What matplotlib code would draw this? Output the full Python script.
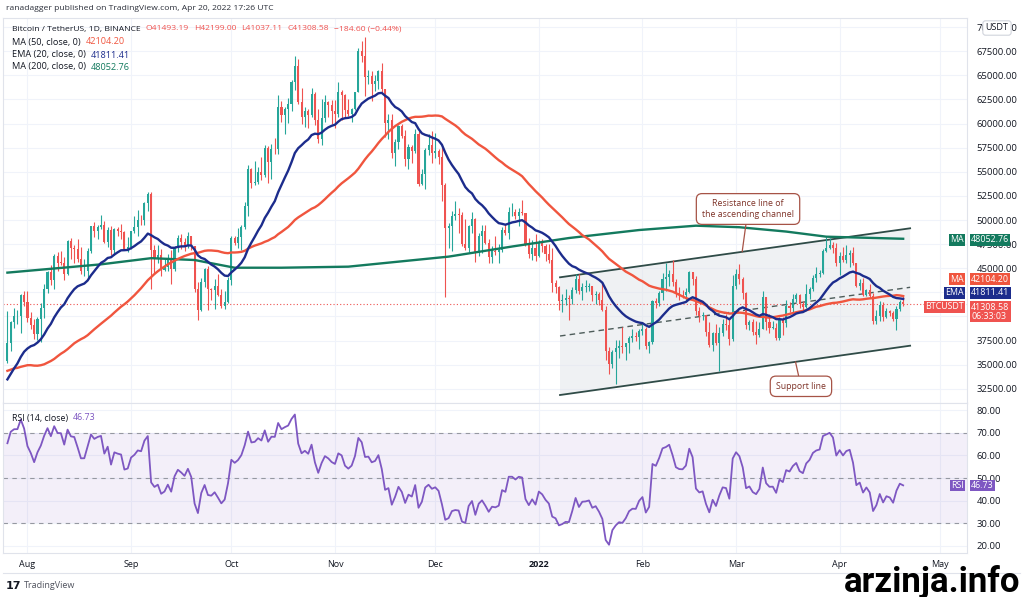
import numpy as np
import pandas as pd
import matplotlib
matplotlib.use("Agg")
import matplotlib.pyplot as plt
import matplotlib.dates as mdates
from matplotlib import transforms
from matplotlib.patches import Polygon
from matplotlib.lines import Line2D

plt.rcParams["font.family"] = ["Open Sans", "DejaVu Sans"]

# closes before the first visible candle (Jun 1 - Jul 25 2021), only used for the indicators
lookback_close = [
    36690, 37570, 39190, 36850, 35520, 35800, 33570, 33380, 37390, 36690,
    37330, 35550, 39020, 40520, 40150, 38350, 38090, 35820, 35480, 35600,
    31680, 32500, 33680, 34660, 31590, 32280, 34700, 34490, 35900, 35040,
    33570, 33800, 34700, 35290, 33690, 34230, 33860, 32880, 33810, 33510,
    34260, 33090, 32730, 32820, 31780, 31420, 31520, 31780, 30840, 29790,
    32140, 32290, 33600, 34290, 35400,
]

# daily candles Jul 26 2021 .. Apr 20 2022 (open = previous close)
high = [
    40550, 39540, 40900, 40640, 42320, 42600,
    42600, 40450, 39780, 39970, 41400, 43390, 44700, 45310, 46450, 46670,
    46780, 46200, 47900, 48150, 47400, 48050, 47160, 46000, 47060, 49380,
    49760, 49500, 50500, 49850, 49230, 49350, 49150, 49300, 49630, 48890, 48200,
    48900, 50370, 51040, 50550, 51900, 52920, 52890, 47360, 47400, 47030,
    45990, 46460, 46870, 47260, 48470, 48500, 48150, 48800, 48370, 47330,
    43600, 44000, 44970, 45200, 42970, 43920, 44350, 42800, 42650, 44120,
    48360, 48360, 49200, 49500, 51890, 55750, 55400, 56100, 55490, 56550,
    57830, 57680, 57850, 58550, 62930, 62370, 61700, 62660, 64490, 67000,
    66700, 63700, 61750, 61500, 63700, 63280, 61500, 62500, 62970, 62350, 62450,
    62430, 64270, 63500, 63090, 62600, 61600, 63320, 67800, 68530, 69000,
    65600, 65470, 65000, 65550, 66300, 63600, 61000, 60950, 58400, 59850,
    60000, 59300, 57860, 57800, 59390, 59190, 55300, 57450, 58870, 59250,
    59050, 57400, 57600, 53850, 49700, 50900, 51950, 51200, 50800, 50100,
    49490, 50800, 50200, 48690, 49500, 49430, 48000, 47300, 48300, 47550,
    49300, 49580, 51370, 51800, 51150, 51250, 52100, 50700, 48140, 47900, 48550,
    47950, 47990, 47550, 47500, 47070, 43750, 43150, 42300, 42800, 42250,
    43000, 44350, 44450, 43450, 43800, 43480, 43180, 42680, 42550, 43500,
    41100, 36850, 36500, 37550, 37550, 38900, 37250, 38000, 38700, 38380, 38700,
    39250, 38850, 37400, 41700, 41900, 42650, 44500, 45500, 44800, 45850,
    43900, 43000, 42700, 42900, 44750, 44600, 44200, 40950, 40450, 40150,
    39450, 38400, 39250, 38850, 39700, 40300, 39850, 44250,
    44950, 45400, 44100, 42500, 39600, 39700, 39550, 39400, 42600, 42050,
    40250, 39500, 39300, 39950, 39900, 41700, 41450, 42350, 42400, 42300,
    41550, 43350, 43000, 44250, 45100, 44800, 46950, 48200, 48100, 47700, 47600,
    46700, 47200, 47450, 46900, 47200, 45500, 43900, 43950, 42800, 43400,
    42400, 40700, 41550, 41500, 40850, 40700, 40600, 41100, 41750, 42199.00,
]
low = [
    35200, 36400, 38800, 39200, 38320, 41050,
    39420, 38700, 37640, 37510, 37330, 39850, 42450, 43260, 42800, 44700,
    45350, 43800, 44250, 45970, 45520, 45680, 44380, 44200, 43960, 46620,
    48270, 48080, 49040, 47640, 47150, 46330, 46370, 48330, 48020, 46860, 46690,
    46950, 48620, 48350, 49500, 49430, 50950, 42840, 44420, 45500, 44150,
    44750, 44760, 43370, 44710, 46710, 47030, 46750, 47050, 46870, 42500,
    39600, 40560, 43080, 40680, 41680, 40750, 42100, 40890, 40750, 41420,
    43280, 47420, 47120, 46900, 49060, 50380, 53370, 53650, 53700, 54100,
    54420, 53880, 54250, 56850, 56860, 60200, 58950, 60020, 61330, 63480,
    62000, 60000, 59680, 59550, 60670, 59830, 58000, 57820, 60180, 60720, 59950,
    59500, 60650, 60380, 60680, 60750, 60120, 61380, 63300, 66380, 62820,
    64100, 62300, 63360, 63600, 63300, 58570, 58370, 56480, 55620, 57400,
    58500, 55620, 55300, 55900, 57000, 53500, 53600, 53250, 56700, 55870,
    56450, 55800, 52000, 42000, 47100, 46780, 50040, 48600, 47300, 46850,
    46650, 48650, 45670, 46300, 46550, 47550, 45500, 45500, 46400, 45560,
    46630, 48420, 48050, 50420, 50150, 49400, 50500, 47300, 46100, 45900, 45700,
    46200, 46650, 45700, 45500, 42500, 42450, 40700, 40500, 41200, 39650,
    41250, 42450, 42300, 41730, 42550, 42600, 41550, 41250, 41150, 40600,
    35450, 34000, 34600, 32950, 35700, 36250, 35500, 36170, 37300, 37400, 36630,
    38050, 36600, 36250, 37100, 40900, 41120, 41650, 42650, 43130, 43200,
    42000, 41750, 41900, 41550, 42450, 43300, 40100, 39450, 39650, 38000,
    36800, 36400, 37050, 34320, 38000, 38600, 37050, 37450,
    42800, 43350, 41850, 38650, 38600, 38100, 37150, 37900, 38650, 38550,
    38250, 38650, 37600, 37570, 38100, 38900, 40500, 40200, 41500, 40900,
    40500, 40900, 41850, 42600, 43600, 44100, 44400, 46650, 46950, 46550, 45200,
    44250, 45650, 45550, 45150, 45350, 43100, 42750, 42150, 42120, 41900,
    39200, 39250, 39550, 39550, 39800, 40000, 39550, 38550, 40600, 41037.11,
]
close = [
    37270, 39460, 40000, 40020, 42210, 41460,
    39850, 39150, 38200, 39720, 40880, 42830, 44610, 43810, 46280, 45580,
    45560, 44420, 47830, 47100, 47030, 45940, 44690, 44700, 46760, 49340,
    48870, 49290, 49510, 47700, 48950, 46850, 49060, 48900, 48800, 46990, 47150,
    48850, 49300, 50030, 49950, 51770, 52660, 46860, 46070, 46400, 44850,
    45150, 46060, 44960, 47100, 48120, 47750, 47300, 48300, 47260, 42850,
    40690, 43560, 44880, 42840, 42700, 43200, 42170, 41030, 41520, 43800,
    48140, 47660, 48230, 49240, 51490, 55340, 53800, 53970, 54960, 54660,
    57480, 56000, 57370, 57350, 61670, 60880, 61530, 62040, 64280, 66000,
    62200, 60690, 61300, 60860, 63080, 60330, 58450, 60590, 62250, 61880, 61300,
    61000, 63230, 62940, 61440, 61000, 61530, 63300, 67540, 66970, 64880,
    64950, 64150, 64400, 65470, 63600, 60090, 60360, 56900, 58100, 59700,
    58670, 56280, 57560, 57160, 58960, 53730, 54720, 57270, 57800, 56950,
    57200, 56500, 53600, 49150, 49400, 50440, 50590, 50470, 47550, 47140,
    49390, 50100, 46700, 48340, 48860, 47630, 46130, 46830, 46680, 46890,
    48930, 48630, 50820, 50820, 50430, 50800, 50700, 47540, 46460, 47120, 46220,
    47720, 47290, 46430, 45830, 43430, 43080, 41550, 41670, 41860, 41820,
    42730, 43900, 42590, 43070, 43100, 43180, 42250, 42370, 41670, 40680,
    36450, 35070, 36280, 36690, 36960, 36830, 37190, 37730, 37920, 37900, 38470,
    38740, 36950, 37350, 41570, 41380, 42410, 43840, 44040, 44390, 43520,
    42390, 42210, 42190, 42570, 44570, 43870, 40520, 40000, 40110, 38390,
    37010, 38230, 37260, 38330, 39210, 39120, 37700, 43190,
    44420, 43920, 42460, 39140, 39400, 38420, 38060, 38740, 41980, 39440,
    38800, 38820, 37780, 39670, 39280, 41110, 40920, 41770, 42250, 41260,
    41000, 42360, 42890, 43960, 44350, 44500, 46820, 47130, 47430, 47060, 45510,
    46280, 45810, 46410, 46580, 45500, 43170, 43440, 42250, 42750, 42160,
    39520, 40070, 41150, 39940, 40550, 40380, 39680, 40800, 41493.19, 41308.58,
]

# MA 200
ma200_dates = ["2021-07-26", "2021-08-23", "2021-09-07", "2021-09-20", "2021-10-02",
               "2021-10-16", "2021-11-05", "2021-11-20", "2021-12-05", "2021-12-24",
               "2022-01-10", "2022-01-31", "2022-02-17", "2022-03-02", "2022-03-16",
               "2022-03-28", "2022-04-20"]
ma200_values = [44540, 45400, 46040, 45850, 45050, 45050, 45160, 45680, 46200, 47250,
                48130, 48960, 49410, 49250, 48800, 48270, 48052.76]

# last values as printed in the legend
last_ma50 = "42104.20"
last_ema20 = "41811.41"
last_ma200 = "48052.76"
last_rsi = "46.73"

# drawn channel
channel_dates = ["2022-01-07 08:00", "2022-04-22 02:00"]
resistance = [44056, 49139]
midline = [37967, 43018]
support = [31846, 36961]

month_ticks = ["2021-08-01", "2021-09-01", "2021-10-01", "2021-11-01", "2021-12-01",
               "2022-01-01", "2022-02-01", "2022-03-01", "2022-04-01", "2022-05-01"]
month_labels = ["Aug", "Sep", "Oct", "Nov", "Dec", "2022", "Feb", "Mar", "Apr", "May"]

# price levels whose axis labels sit under the tags
hidden_levels = [40000, 42500]

GREEN = "#26a69a"
RED = "#ef5350"
MA50_C = "#f0553e"
EMA_C = "#1c2c8c"
MA200_C = "#137a5e"
PURPLE = "#7e57c2"
TEXT = "#131722"
GRID = "#f0f3fa"
BORDER = "#e0e3eb"

# indicators
dates = pd.date_range("2021-07-26", periods=len(close), freq="D")
all_close = pd.Series(lookback_close + close)
n = len(close)
ema20 = all_close.ewm(span=20, adjust=False).mean().iloc[-n:].values
ma50 = all_close.rolling(50).mean().iloc[-n:].values
delta = all_close.diff()
up_avg = delta.clip(lower=0).ewm(alpha=1 / 14, adjust=False).mean()
dn_avg = (-delta.clip(upper=0)).ewm(alpha=1 / 14, adjust=False).mean()
rsi = (100 - 100 / (1 + up_avg / dn_avg)).iloc[-n:].values

o = np.array([lookback_close[-1]] + close[:-1], dtype=float)
c = np.array(close, dtype=float)
hi = np.array(high, dtype=float)
lo = np.array(low, dtype=float)
x = mdates.date2num(dates)

W, H = 1024, 597
fig = plt.figure(figsize=(W / 100, H / 100), dpi=100)


def box(l, t, r, b):
    return [l / W, 1 - b / H, (r - l) / W, (b - t) / H]


ax = fig.add_axes(box(3, 18, 967, 403))
rx = fig.add_axes(box(3, 403, 967, 553), sharex=ax)

x0 = mdates.date2num(pd.Timestamp("2021-07-26"))
ax.set_xlim(x0 - 1.32, x0 + 287.1)
ax.set_ylim(31017, 70954)
rx.set_ylim(16.67, 83.33)

for a in (ax, rx):
    a.set_axisbelow(True)
    a.grid(True, color=GRID, lw=0.8)
    for s in a.spines.values():
        s.set_color(BORDER)
        s.set_linewidth(0.8)
    a.yaxis.tick_right()
    a.tick_params(axis="y", length=0, pad=7, labelsize=6.8, labelcolor=TEXT)
    a.tick_params(axis="x", length=0)

price_ticks = np.arange(32500, 70001, 2500)
ax.set_yticks(price_ticks)
ax.set_yticklabels(["" if v in hidden_levels else f"{v:.2f}" for v in price_ticks])
rx.set_yticks(np.arange(20, 81, 10))
rx.set_yticklabels([f"{v:.2f}" for v in np.arange(20, 81, 10)])
rx.set_xticks(mdates.date2num(pd.to_datetime(month_ticks)))
rx.set_xticklabels(month_labels)
rx.tick_params(axis="x", pad=5, labelsize=6.5, labelcolor=TEXT)
for lab in rx.get_xticklabels():
    if lab.get_text() == "2022":
        lab.set_fontweight("bold")
plt.setp(ax.get_xticklabels(), visible=False)

# channel
cx = mdates.date2num(pd.to_datetime(channel_dates))
ax.add_patch(Polygon([(cx[0], support[0]), (cx[1], support[1]),
                      (cx[1], resistance[1]), (cx[0], resistance[0])],
                     closed=True, fc="#e3e6ea", ec="none", alpha=0.55, zorder=1))
ax.plot(cx, resistance, color="#2f4b47", lw=1.3, zorder=2.5)
ax.plot(cx, support, color="#2f4b47", lw=1.3, zorder=2.5)
ax.plot(cx, midline, color="#4d5c5a", lw=1.0, ls=(0, (4, 3)), zorder=2.5)

# last price line
ax.axhline(c[-1], color=RED, lw=0.8, ls=(0, (1, 2)), zorder=2)

# candles
col = np.where(c >= o, GREEN, RED)
ax.vlines(x, lo, hi, colors=col, lw=0.8, zorder=3)
ax.bar(x, np.maximum(np.abs(c - o), 60), bottom=np.minimum(o, c), width=0.62,
       color=col, linewidth=0, zorder=3)

# moving averages
ax.plot(mdates.date2num(pd.to_datetime(ma200_dates)), ma200_values, color=MA200_C, lw=1.7, zorder=4)
ax.plot(x, ma50, color=MA50_C, lw=1.7, zorder=4)
ax.plot(x, ema20, color=EMA_C, lw=1.7, zorder=4)

# callouts
note_kw = dict(ha="center", va="center", fontsize=6.3, color="#7e3328", zorder=6,
               bbox=dict(boxstyle="round,pad=0.65", fc="white", ec="#a65346", lw=0.9),
               arrowprops=dict(arrowstyle="-", color="#a65346", lw=0.9, shrinkA=0, shrinkB=0))
tip = mdates.date2num(pd.Timestamp("2022-03-02 20:00"))
ax.annotate("Resistance line of\nthe ascending channel",
            xy=(tip, np.interp(tip, cx, resistance)),
            xytext=(mdates.date2num(pd.Timestamp("2022-03-04 14:00")), 51141), **note_kw)
tip = mdates.date2num(pd.Timestamp("2022-03-18 19:00"))
ax.annotate("Support line",
            xy=(tip, np.interp(tip, cx, support)),
            xytext=(mdates.date2num(pd.Timestamp("2022-03-20 10:00")), 32749), **note_kw)

# RSI panel
rx.axhspan(30, 70, color=PURPLE, alpha=0.09, lw=0, zorder=1)
for lvl in (70, 50, 30):
    rx.axhline(lvl, color="#9598a1", lw=0.8, ls=(0, (4, 4)), zorder=1.5)
rx.plot(x, rsi, color=PURPLE, lw=1.3, zorder=3)


# price tags on the axis
def tag(axis, yval, dy, name, value, color, vdy=None):
    tr = transforms.blended_transform_factory(axis.transAxes, axis.transData)
    kw = dict(xycoords=tr, textcoords="offset pixels", va="center", fontsize=6.4,
              color="white", annotation_clip=False, zorder=10)
    axis.annotate(name, (1, yval), xytext=(-3, dy), ha="right",
                  bbox=dict(boxstyle="square,pad=0.14", fc=color, ec="none"), **kw)
    axis.annotate(value, (1, yval), xytext=(4, dy if vdy is None else vdy), ha="left",
                  linespacing=1.05, bbox=dict(boxstyle="square,pad=0.14", fc=color, ec="none"), **kw)


tag(ax, float(last_ma200), -1, "MA", last_ma200, MA200_C)
tag(ax, float(last_ma50), 17, "MA", last_ma50, MA50_C)
tag(ax, float(last_ema20), 6, "EMA", last_ema20, EMA_C)
tag(ax, c[-1], -3, "BTCUSDT", "41308.58\n06:33:03", RED, vdy=-8)
tag(rx, float(last_rsi), 0, "RSI", last_rsi, PURPLE)

fig.text(997 / W, 1 - 28 / H, "USDT", fontsize=6.5, color=TEXT, ha="center", va="center",
         bbox=dict(boxstyle="round,pad=0.3", fc="white", ec="#d1d4dc", lw=0.8))

# legends
renderer = fig.canvas.get_renderer()


def text_run(px, py, parts, size=6.3):
    for s, colr in parts:
        t = fig.text(px / W, 1 - py / H, s, fontsize=size, color=colr, va="center", ha="left")
        px = t.get_window_extent(renderer).x1 + 5


text_run(6, 9, [("ranadagger published on TradingView.com, Apr 20, 2022 17:26 UTC", "#2a2e39")], 6.1)
text_run(12, 29, [("Bitcoin / TetherUS, 1D, BINANCE", TEXT), ("O41493.19", RED), ("H42199.00", RED),
                  ("L41037.11", RED), ("C41308.58", RED), ("\u2212184.60 (\u22120.44%)", RED)], 6.1)
text_run(12, 42, [("MA (50, close, 0)", TEXT), (last_ma50, MA50_C)], 6.6)
text_run(12, 55, [("EMA (20, close, 0)", TEXT), (last_ema20, EMA_C)], 6.6)
text_run(12, 67, [("MA (200, close, 0)", TEXT), (last_ma200, MA200_C)], 6.6)
text_run(12, 418, [("RSI (14, close)", TEXT), (last_rsi, PURPLE)], 6.4)

fig.add_artist(Line2D([3 / W, 1020 / W], [1 - 573 / H, 1 - 573 / H], color=BORDER, lw=0.8))
fig.text(6 / W, 1 - 586 / H, "17", fontsize=8, fontweight="bold", color=TEXT, va="center",
         family="DejaVu Sans")
fig.text(24 / W, 1 - 586 / H, "TradingView", fontsize=6.5, color="#50535e", va="center")

fig.text(1020 / W, 1 - 592 / H, "arzinja.info", fontsize=25, fontweight="bold", color="black",
         ha="right", va="baseline", family=["Roboto", "DejaVu Sans"])

fig.savefig("out.png", dpi=100)
